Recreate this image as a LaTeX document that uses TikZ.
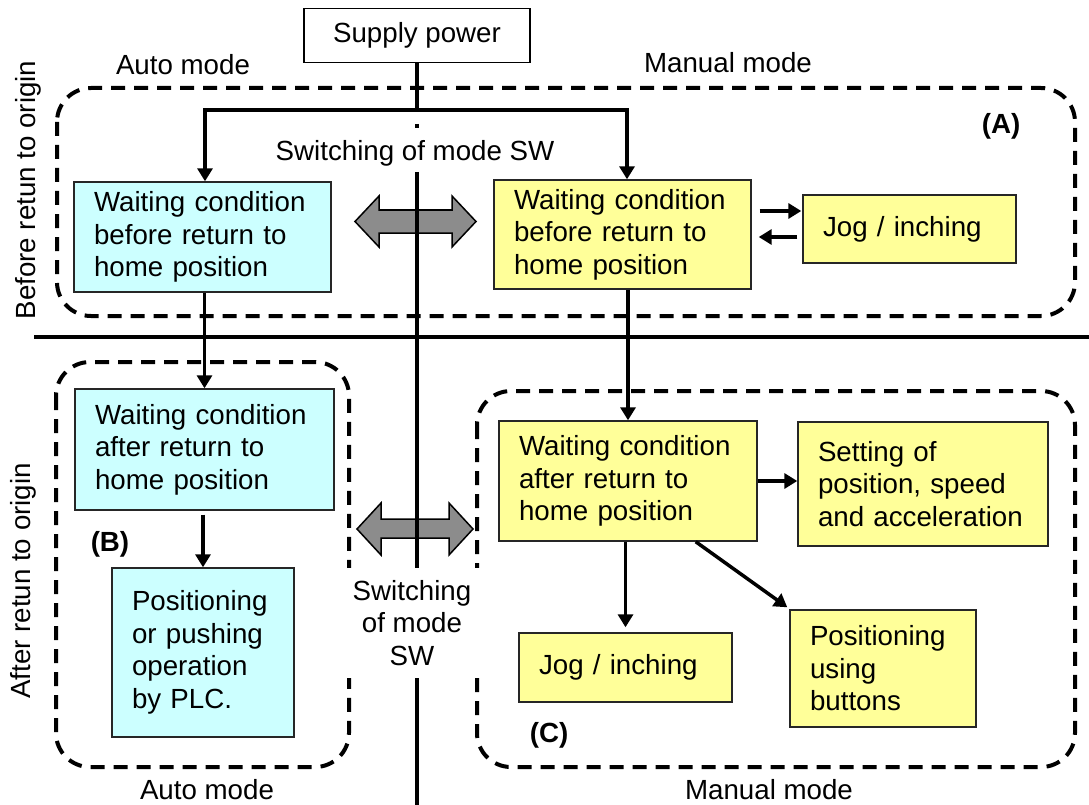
\documentclass[tikz,border=0pt]{standalone}
\usepackage{fontspec}
\setmainfont{Liberation Sans}
\usetikzlibrary{arrows.meta}
\definecolor{cyanbox}{HTML}{CCFFFF}
\definecolor{yellowbox}{HTML}{FFFF99}
\definecolor{grayarrow}{HTML}{8C8C8C}
\tikzset{
  box/.style={draw=black!85, line width=1.4pt, inner xsep=20pt, inner ysep=0pt, align=left, anchor=center,
              font=\fontsize{27.7}{32.5}\selectfont},
  autobox/.style={box, fill=cyanbox},
  manbox/.style={box, fill=yellowbox},
  arr/.style={line width=3.5pt, -{Triangle[length=13pt,width=15pt]}},
  mainline/.style={line width=4pt},
  dashbox/.style={line width=4pt, dash pattern=on 14pt off 9pt, rounded corners=34pt},
  lbl/.style={font=\fontsize{27.7}{32.5}\selectfont, inner sep=0pt, align=center},
  blbl/.style={font=\fontsize{27.7}{32.5}\selectfont\bfseries, inner sep=0pt},
  garrow/.style={fill=grayarrow, draw=black, line width=1.5pt, line join=miter}
}
\begin{document}
\begin{tikzpicture}[x=1pt,y=-1pt]
\useasboundingbox (0,0) rectangle (1089,805);

% dashed regions
\draw[dashbox] (57,88) rectangle (1075,316);
\draw[dashbox] (56,362) rectangle (349,767);
\draw[dashbox] (477,391) rectangle (1075,767);

% gray double arrows
\draw[garrow] (355,221.5) -- (379,196) -- (379,210) -- (452,210) -- (452,196) -- (476,221.5)
  -- (452,247) -- (452,233) -- (379,233) -- (379,247) -- cycle;
\draw[garrow] (357,529) -- (381,503) -- (381,519) -- (449,519) -- (449,503) -- (473,529)
  -- (449,555) -- (449,538) -- (381,538) -- (381,555) -- cycle;

% supply power
\node[draw=black, line width=1.6pt, minimum width=226pt, minimum height=54pt, inner sep=0pt,
      font=\fontsize{27.7}{32.5}\selectfont] (sp) at (417,35.5) {Supply power};

% main separator lines
\coordinate (br) at (417,110);
\draw[mainline] (sp.south) -- (br);
\draw[mainline] (417,124) -- (417,128);
\draw[mainline] (417,172) -- (417,805);
\draw[mainline] (34,337) -- (1089,337);

% boxes
\node[autobox, minimum width=257pt, minimum height=110pt, text width=217pt] (cA) at (202.5,237)
  {Waiting condition\\before return to\\home position};
\node[manbox, minimum width=257pt, minimum height=109pt, text width=217pt] (yA) at (622.5,234.5)
  {Waiting condition\\before return to\\home position};
\node[manbox, minimum width=213pt, minimum height=68pt, text width=173pt] (jA) at (909.5,229)
  {Jog / inching};
\node[autobox, minimum width=259pt, minimum height=121pt, text width=219pt] (cB1) at (204.5,449.5)
  {Waiting condition\\after return to\\home position};
\node[autobox, minimum width=182pt, minimum height=169pt, text width=142pt] (cB2) at (203,652.5)
  {Positioning\\or pushing\\operation\\by PLC.};
\node[manbox, minimum width=258pt, minimum height=120pt, text width=218pt] (cM) at (628,481)
  {Waiting condition\\after return to\\home position};
\node[manbox, minimum width=250pt, minimum height=124pt, text width=210pt] (sS) at (923,484)
  {Setting of\\position, speed\\and acceleration};
\node[manbox, minimum width=213pt, minimum height=69pt, text width=173pt] (jC) at (625.5,667.5)
  {Jog / inching};
\node[manbox, minimum width=186pt, minimum height=117pt, text width=146pt] (pB) at (883,668.5)
  {Positioning\\using\\buttons};

% connectors
\draw[arr] (br) -| ([xshift=2.5pt]cA.north);
\draw[arr] (br) -| ([xshift=4.5pt]yA.north);
\draw[arr] (cA.south -| cB1.north) -- (cB1.north);
\draw[arr] ([yshift=-4pt]cB1.south -| cB2.north) -- (cB2.north);
\draw[arr] (yA.south -| cM.north) -- (cM.north);
\draw[arr] ([xshift=8pt,yshift=23.5pt]yA.east) -- ([xshift=-1pt,yshift=23.5pt]yA.east -| jA.west);
\draw[arr] ([xshift=-5pt,yshift=-2.5pt]yA.east -| jA.west) -- ([xshift=7pt,yshift=-2.5pt]yA.east);
\draw[arr] (cM.east) -- (cM.east -| sS.west);
\draw[arr] (cM.south -| jC.north) -- ([yshift=5pt]jC.north);
\draw[arr] ([xshift=-62pt]cM.south east) -- ([xshift=-2pt,yshift=2pt]pB.north west);

% labels
\node[lbl] (am1) at (183,65) {Auto mode};
\node[lbl] (mm1) at (728,63) {Manual mode};
\node[lbl] (sw1) at (415,153) {Switching of mode SW};
\node[blbl] (lA) at (1001,126) {(A)};
\node[blbl] (lB) at (110,544) {(B)};
\node[blbl] (lC) at (549,735) {(C)};
\node[lbl] (am2) at (207,790) {Auto mode};
\node[lbl] (mm2) at (769,790) {Manual mode};
\node[lbl, rotate=90] (bro) at (28,190) {Before retun to origin};
\node[lbl, rotate=90] (aro) at (23,581) {After retun to origin};
\node[lbl, fill=white, minimum width=137pt, minimum height=110pt] (sw2) at (412,623)
  {Switching\\of mode\\SW};
\end{tikzpicture}
\end{document}
